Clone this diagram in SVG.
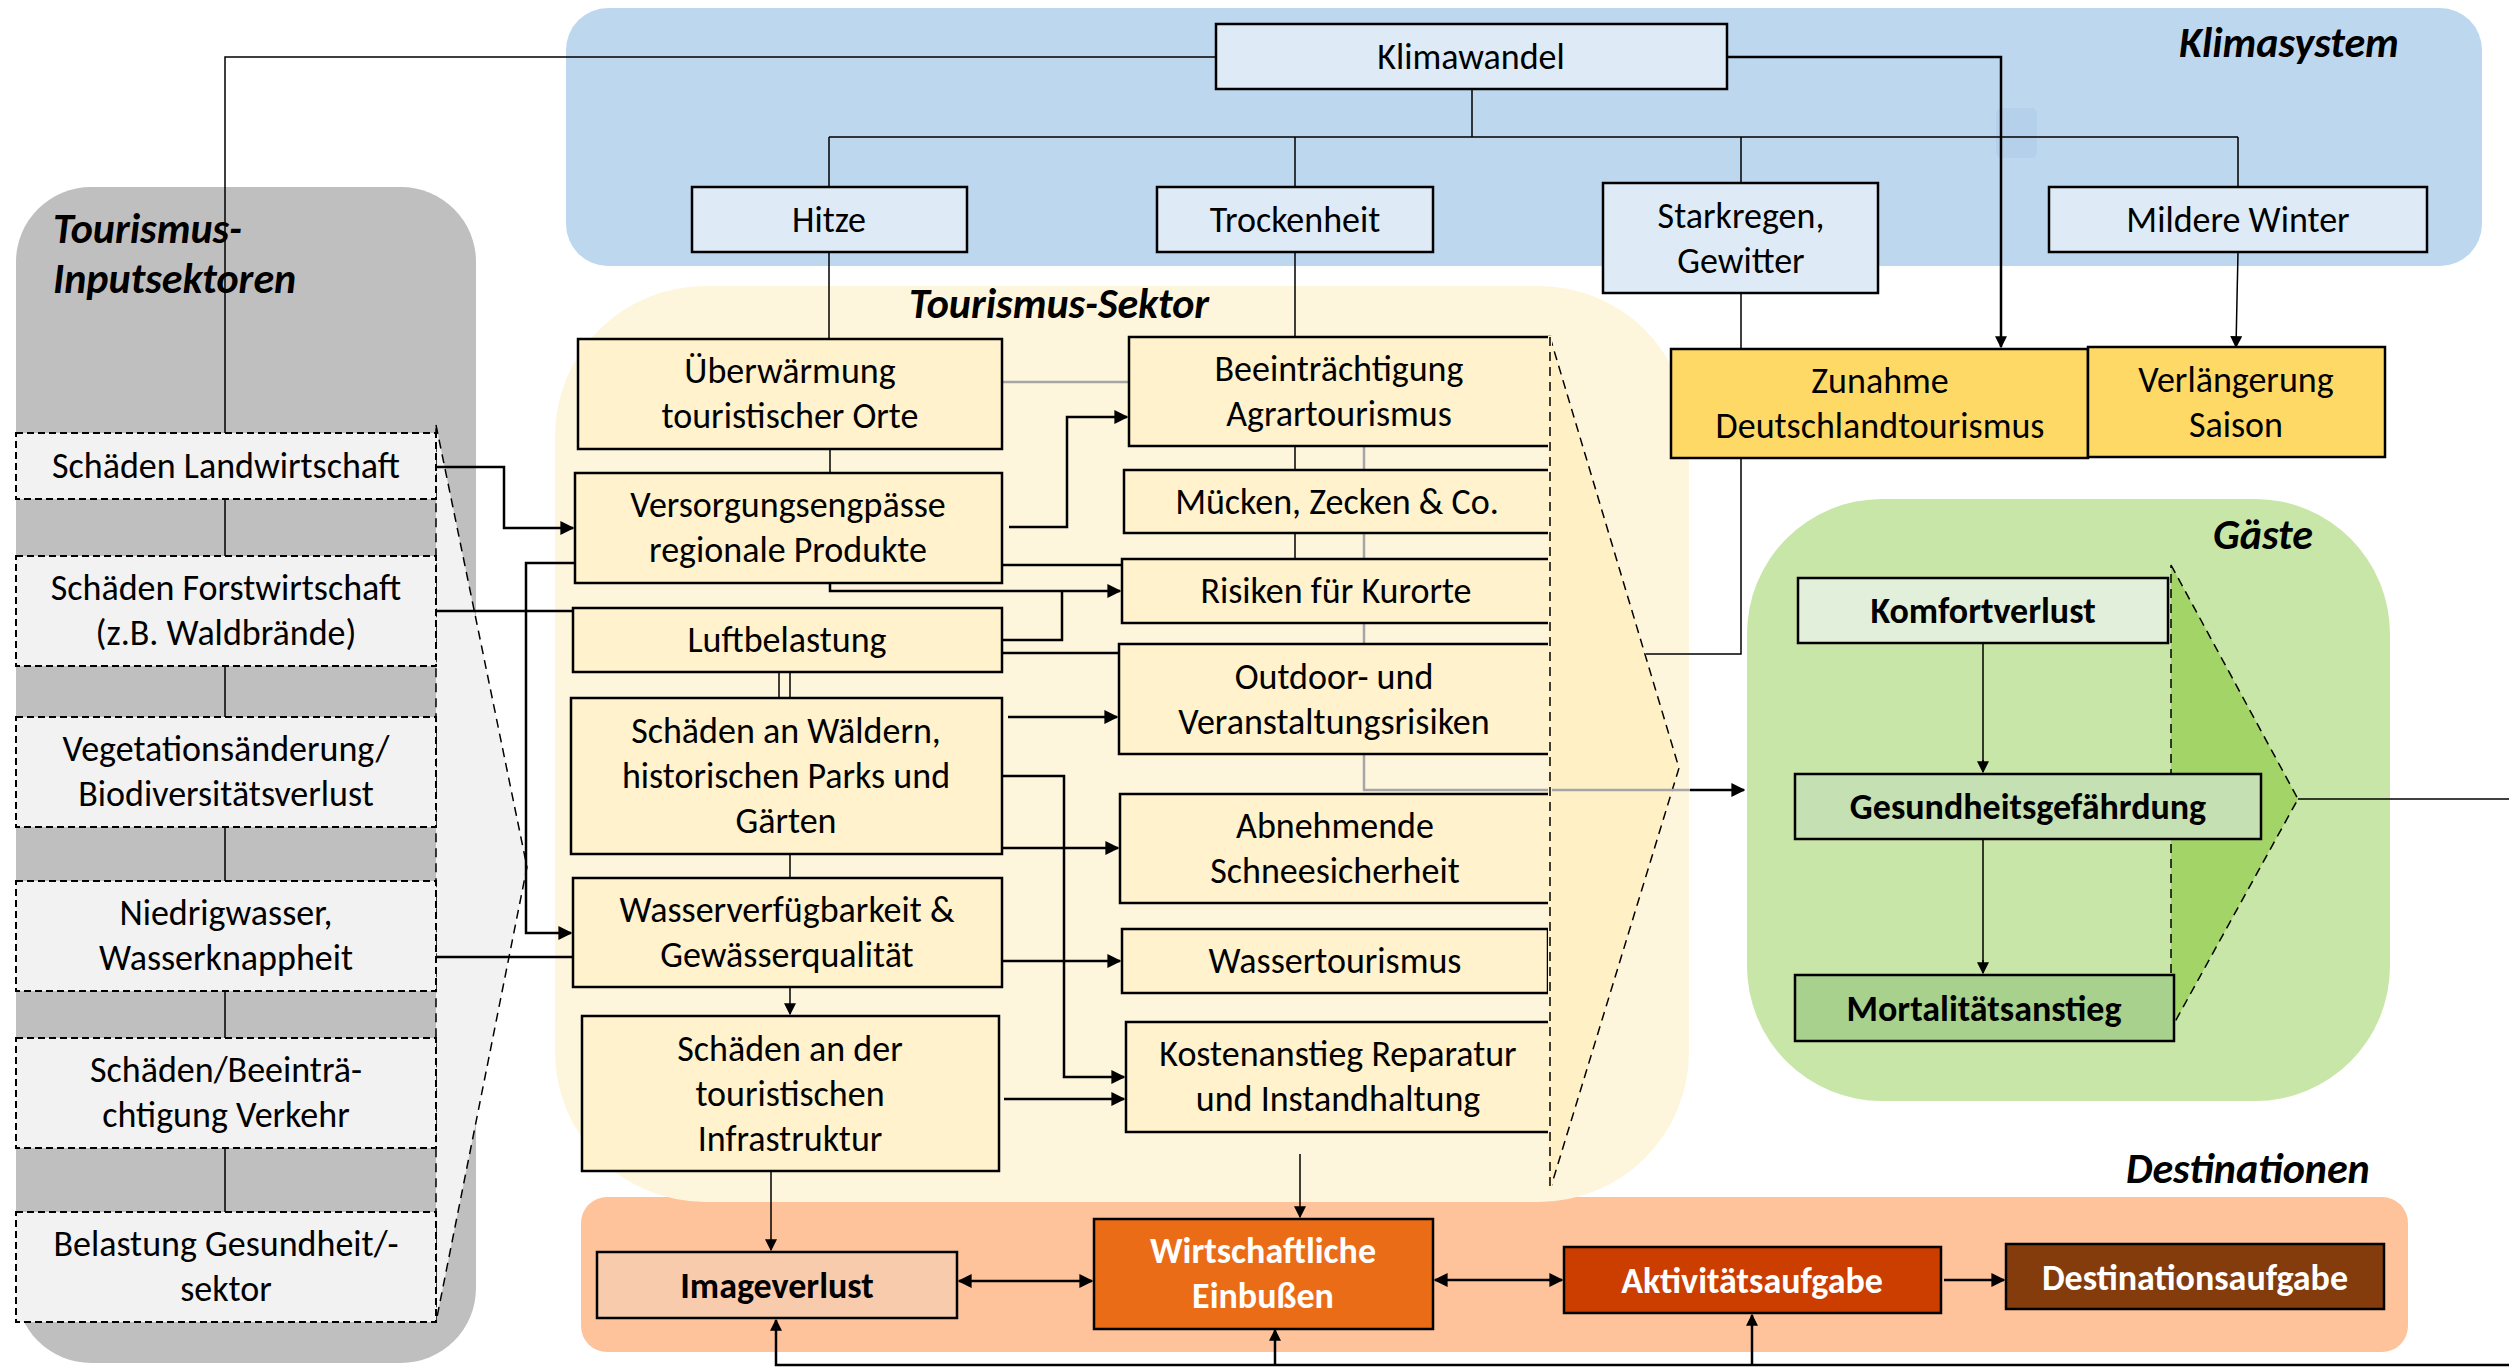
<svg xmlns="http://www.w3.org/2000/svg" width="2509" height="1369" viewBox="0 0 2509 1369">
<defs>
<marker id="ah" viewBox="0 0 10 10" refX="9" refY="5" markerWidth="14" markerHeight="14" markerUnits="userSpaceOnUse" orient="auto-start-reverse"><path d="M0,0 L10,5 L0,10 z" fill="#000"/></marker>
<marker id="ahs" viewBox="0 0 10 10" refX="9" refY="5" markerWidth="12" markerHeight="12" markerUnits="userSpaceOnUse" orient="auto-start-reverse"><path d="M0,0 L10,5 L0,10 z" fill="#000"/></marker>
<style>
text{font-family:Carlito,Lato,"Liberation Sans",sans-serif;font-size:36px;fill:#000;text-anchor:middle}
.b{font-weight:bold}
.w{fill:#fff}
.t{font-weight:bold;font-style:italic;font-size:42px;text-anchor:start}
.bb{fill:#DEEBF7;stroke:#000;stroke-width:2.5}
.cb{fill:#FFF2CC;stroke:#000;stroke-width:2.5}
.gb{fill:#FFD966;stroke:#000;stroke-width:2.5}
.lb{fill:#F2F2F2;stroke:#000;stroke-width:2;stroke-dasharray:7 4}
.c{fill:none;stroke:#000;stroke-width:2.5}
.th{fill:none;stroke:#000;stroke-width:1.5}
.gr{fill:none;stroke:#A6A6A6;stroke-width:2.5}
.fun{stroke:#000;stroke-width:1.5;stroke-dasharray:9 6}
</style>
</defs>
<g id="panels">
<rect id="klimasystem" x="566" y="8" width="1916" height="258" rx="42" fill="#BDD7EE"/>
<rect x="1996" y="108" width="41" height="50" rx="6" fill="#B4D0EA"/>
<rect id="inputsektoren" x="16" y="187" width="460" height="1176" rx="75" fill="#BFBFBF"/>
<rect id="destinationen" x="581" y="1197" width="1827" height="155" rx="26" fill="#FFC39B"/>
<rect id="tourismus" x="555" y="286" width="1134" height="916" rx="150" fill="#FEF5DD"/>
<rect id="gaeste" x="1747" y="499" width="643" height="602" rx="135" fill="#C8E6A7"/>
</g>
<g id="titles">
<text class="t" x="2179" y="57">Klimasystem</text>
<text class="t" x="53" y="243">Tourismus-</text>
<text class="t" x="53" y="293">Inputsektoren</text>
<text class="t" x="909" y="318">Tourismus-Sektor</text>
<text class="t" x="2213" y="549">Gäste</text>
<text class="t" x="2126" y="1183">Destinationen</text>
</g>
<g id="funnels">
<polygon points="436,425 527,867 436,1322" fill="#F2F2F2" class="fun"/>
<polygon points="1550,337 1679,768 1550,1190" fill="#FFF0C6" class="fun"/>
<polygon points="2171,565 2298,799 2171,1029" fill="#A2D468" class="fun"/>
</g>
<g id="connectors">
<path class="th" d="M1216,57 H225 V1212"/>
<path class="th" d="M1472,89 V137 M829,137 H2238 M829,137 V187 M1295,137 V187 M1741,137 V183 M2238,137 V187"/>
<path class="c" d="M1727,57 H2001 V347" marker-end="url(#ahs)" stroke-width="2"/>
<path class="th" d="M2238,252 L2236,347" marker-end="url(#ahs)" stroke-width="2"/>
<path class="th" d="M1741,293 V349 M1741,458 V654 H1646" stroke-width="2"/>
<path class="th" d="M829,252 V339 M1295,252 V337 M830,449 V473" stroke-width="2"/>
<path class="gr" d="M1002,382 H1129 M1364,446 V470 M1364,533 V559 M1364,623 V644 M1364,754 V790 H1690"/>
<path class="c" d="M1690,790 H1744" marker-end="url(#ah)"/>
<path class="th" d="M1295,446 V470 M1295,533 V559" stroke-width="2"/>
<path class="c" d="M436,467 H504 V528 H573" marker-end="url(#ah)" stroke-width="3"/>
<path class="c" d="M436,611 H573 M436,957 H573"/>
<path class="c" d="M575,563 H526 V933 H571" marker-end="url(#ah)"/>
<path class="c" d="M1009,527 H1067 V417 H1127" marker-end="url(#ah)" stroke-width="3"/>
<path class="c" d="M1002,565 H1122"/>
<path class="c" d="M830,583 V591 H1120" marker-end="url(#ah)"/>
<path class="c" d="M1002,640 H1062 V591"/>
<path class="c" d="M1002,653 H1119"/>
<path class="th" d="M779,672 V698 M790,672 V698"/>
<path class="c" d="M1008,717 H1117" marker-end="url(#ah)"/>
<path class="c" d="M1002,776 H1064 V1077 H1124" marker-end="url(#ah)"/>
<path class="c" d="M1002,848 H1118" marker-end="url(#ah)"/>
<path class="th" d="M790,854 V878" stroke-width="2"/>
<path class="c" d="M1002,961 H1120" marker-end="url(#ah)"/>
<path class="th" d="M790,987 V1014" marker-end="url(#ahs)" stroke-width="2"/>
<path class="c" d="M1004,1099 H1124" marker-end="url(#ah)"/>
<path class="th" d="M771,1171 V1250" marker-end="url(#ahs)" stroke-width="2"/>
<path class="th" d="M1300,1154 V1217" marker-end="url(#ahs)" stroke-width="2"/>
<path class="th" d="M1983,643 V772 M1983,839 V973" stroke-width="2"/>
<path class="th" d="M1983,760 V772" marker-end="url(#ahs)" stroke-width="2"/>
<path class="th" d="M1983,960 V973" marker-end="url(#ahs)" stroke-width="2"/>
<path class="th" d="M2298,799 H2509" stroke-width="2.5"/>
<path class="c" d="M2509,1365 H776 V1320" marker-end="url(#ahs)"/>
<path class="c" d="M1275,1365 V1330" marker-end="url(#ahs)" stroke-width="2"/>
<path class="c" d="M1752,1365 V1315" marker-end="url(#ahs)" stroke-width="2"/>
<path class="c" d="M959,1281 H1092" marker-start="url(#ah)" marker-end="url(#ah)" stroke-width="3"/>
<path class="c" d="M1435,1280 H1562" marker-start="url(#ah)" marker-end="url(#ah)" stroke-width="3"/>
<path class="c" d="M1944,1280 H2004" marker-end="url(#ah)"/>
</g>
<g id="n-klimawandel"><rect class="bb" x="1216" y="24" width="511" height="65"/><text x="1471" y="69">Klimawandel</text></g>
<g id="n-hitze"><rect class="bb" x="692" y="187" width="275" height="65"/><text x="829" y="232">Hitze</text></g>
<g id="n-trockenheit"><rect class="bb" x="1157" y="187" width="276" height="65"/><text x="1295" y="232">Trockenheit</text></g>
<g id="n-starkregen"><rect class="bb" x="1603" y="183" width="275" height="110"/><text x="1741" y="228">Starkregen,</text><text x="1741" y="273">Gewitter</text></g>
<g id="n-mildere"><rect class="bb" x="2049" y="187" width="378" height="65"/><text x="2238" y="232">Mildere Winter</text></g>
<g id="n-zunahme"><rect class="gb" x="1671" y="349" width="417" height="109"/><text x="1880" y="393">Zunahme</text><text x="1880" y="438">Deutschlandtourismus</text></g>
<g id="n-verlaengerung"><rect class="gb" x="2088" y="347" width="297" height="110"/><text x="2236" y="392">Verlängerung</text><text x="2236" y="437">Saison</text></g>
<g id="n-landwirtschaft"><rect class="lb" x="16" y="433" width="420" height="66"/><text x="226" y="478">Schäden Landwirtschaft</text></g>
<g id="n-forstwirtschaft"><rect class="lb" x="16" y="556" width="420" height="110"/><text x="226" y="600">Schäden Forstwirtschaft</text><text x="226" y="645">(z.B. Waldbrände)</text></g>
<g id="n-vegetation"><rect class="lb" x="16" y="717" width="420" height="110"/><text x="226" y="761">Vegetationsänderung/</text><text x="226" y="806">Biodiversitätsverlust</text></g>
<g id="n-niedrigwasser"><rect class="lb" x="16" y="881" width="420" height="110"/><text x="226" y="925">Niedrigwasser,</text><text x="226" y="970">Wasserknappheit</text></g>
<g id="n-verkehr"><rect class="lb" x="16" y="1038" width="420" height="110"/><text x="226" y="1082">Schäden/Beeinträ-</text><text x="226" y="1127">chtigung Verkehr</text></g>
<g id="n-gesundheit-sektor"><rect class="lb" x="16" y="1212" width="420" height="110"/><text x="226" y="1256">Belastung Gesundheit/-</text><text x="226" y="1301">sektor</text></g>
<g id="n-ueberwaermung"><rect class="cb" x="578" y="339" width="424" height="110"/><text x="790" y="383">Überwärmung</text><text x="790" y="428">touristischer Orte</text></g>
<g id="n-versorgung"><rect class="cb" x="575" y="473" width="427" height="110"/><text x="788" y="517">Versorgungsengpässe</text><text x="788" y="562">regionale Produkte</text></g>
<g id="n-luft"><rect class="cb" x="573" y="608" width="429" height="64"/><text x="787" y="652">Luftbelastung</text></g>
<g id="n-waelder"><rect class="cb" x="571" y="698" width="431" height="156"/><text x="786" y="743">Schäden an Wäldern,</text><text x="786" y="788">historischen Parks und</text><text x="786" y="833">Gärten</text></g>
<g id="n-wasser"><rect class="cb" x="573" y="878" width="429" height="109"/><text x="787" y="922">Wasserverfügbarkeit &amp;</text><text x="787" y="967">Gewässerqualität</text></g>
<g id="n-infrastruktur"><rect class="cb" x="582" y="1016" width="417" height="155"/><text x="790" y="1061">Schäden an der</text><text x="790" y="1106">touristischen</text><text x="790" y="1151">Infrastruktur</text></g>
<g id="n-agrar"><rect class="cb" x="1129" y="337" width="421" height="109"/><text x="1339" y="381">Beeinträchtigung</text><text x="1339" y="426">Agrartourismus</text></g>
<g id="n-muecken"><rect class="cb" x="1124" y="470" width="426" height="63"/><text x="1337" y="514">Mücken, Zecken &amp; Co.</text></g>
<g id="n-kurorte"><rect class="cb" x="1122" y="559" width="428" height="64"/><text x="1336" y="603">Risiken für Kurorte</text></g>
<g id="n-outdoor"><rect class="cb" x="1119" y="644" width="431" height="110"/><text x="1334" y="689">Outdoor- und</text><text x="1334" y="734">Veranstaltungsrisiken</text></g>
<g id="n-schnee"><rect class="cb" x="1120" y="794" width="430" height="109"/><text x="1335" y="838">Abnehmende</text><text x="1335" y="883">Schneesicherheit</text></g>
<g id="n-wassertourismus"><rect class="cb" x="1122" y="929" width="426" height="64"/><text x="1335" y="973">Wassertourismus</text></g>
<g id="n-kosten"><rect class="cb" x="1126" y="1022" width="424" height="110"/><text x="1338" y="1066">Kostenanstieg Reparatur</text><text x="1338" y="1111">und Instandhaltung</text></g>
<g id="funnel-edges">
<line x1="1550" y1="336" x2="1550" y2="1191" stroke="#FFF2CC" stroke-width="4"/>
<line x1="1550" y1="337" x2="1550" y2="1190" class="fun"/>
</g>
<g id="n-komfort"><rect x="1798" y="578" width="370" height="65" fill="#E2EFDA" stroke="#000" stroke-width="2.5"/><text class="b" x="1983" y="623">Komfortverlust</text></g>
<g id="n-gesundheit"><rect x="1795" y="774" width="466" height="65" fill="#C5E0B3" stroke="#000" stroke-width="2.5"/><text class="b" x="2028" y="819">Gesundheitsgefährdung</text></g>
<g id="n-mortalitaet"><rect x="1795" y="975" width="379" height="66" fill="#A9D18E" stroke="#000" stroke-width="2.5"/><text class="b" x="1984" y="1021">Mortalitätsanstieg</text></g>
<g id="n-image"><rect x="597" y="1252" width="360" height="66" fill="#F8CBAD" stroke="#000" stroke-width="2.5"/><text class="b" x="777" y="1298">Imageverlust</text></g>
<g id="n-wirtschaft"><rect x="1094" y="1219" width="339" height="110" fill="#EB6C17" stroke="#000" stroke-width="2.5"/><text class="b w" x="1263" y="1263">Wirtschaftliche</text><text class="b w" x="1263" y="1308">Einbußen</text></g>
<g id="n-aktivitaet"><rect x="1564" y="1247" width="377" height="66" fill="#CC3D00" stroke="#000" stroke-width="2.5"/><text class="b w" x="1752" y="1293">Aktivitätsaufgabe</text></g>
<g id="n-destination"><rect x="2006" y="1244" width="378" height="65" fill="#843C0C" stroke="#000" stroke-width="2.5"/><text class="b w" x="2195" y="1290">Destinationsaufgabe</text></g>
</svg>
